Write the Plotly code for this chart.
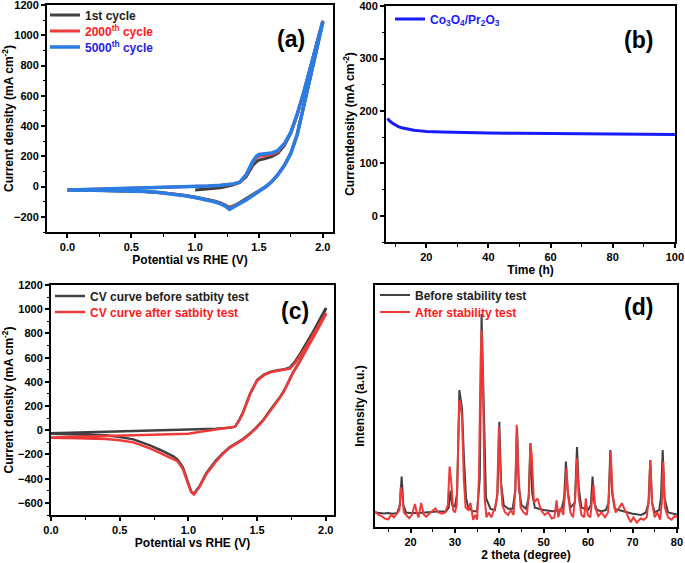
import plotly.graph_objects as go

W, H = 685, 563

# ---------------- Panel (a): CV cycles ----------------
a_fwd_V = [0.0, 0.2, 0.4, 0.6, 0.8, 0.9, 1.0, 1.1, 1.2, 1.3, 1.35, 1.4, 1.45, 1.48, 1.5, 1.55, 1.6, 1.65, 1.7, 1.75, 1.8, 1.85, 1.9, 1.95, 2.0]
a_ret_V = [2.0, 1.95, 1.9, 1.85, 1.8, 1.75, 1.7, 1.65, 1.6, 1.55, 1.5, 1.45, 1.4, 1.35, 1.3, 1.27, 1.24, 1.2, 1.15, 1.1, 1.0, 0.9, 0.8, 0.7, 0.6, 0.4, 0.2, 0.0]

a5000_fwd_I = [-22, -18, -13, -9, -5, -3, 0, 4, 9, 18, 30, 80, 165, 200, 212, 218, 222, 240, 285, 360, 480, 620, 780, 935, 1090]
a5000_ret_I = [1085, 900, 715, 530, 345, 220, 140, 80, 32, -3, -32, -60, -88, -112, -137, -150, -132, -114, -100, -90, -72, -58, -46, -38, -33, -27, -24, -22]

a2000_fwd_I = [-22, -18, -13, -9, -5, -3, 0, 4, 9, 17, 28, 75, 155, 190, 200, 206, 212, 232, 280, 358, 478, 620, 780, 935, 1095]
a2000_ret_I = [1090, 900, 715, 530, 345, 222, 142, 82, 33, -2, -30, -58, -85, -108, -132, -144, -128, -110, -97, -88, -70, -57, -45, -37, -32, -27, -24, -22]

a1_fwd_V = [1.0, 1.1, 1.2, 1.3, 1.35, 1.4, 1.45, 1.48, 1.5, 1.55, 1.6, 1.65, 1.7, 1.75, 1.8, 1.85, 1.9, 1.95, 2.0]
a1_fwd_I = [-22, -17, -8, 12, 28, 65, 138, 165, 175, 186, 198, 222, 272, 355, 478, 620, 780, 935, 1095]
a1_ret_I = [1090, 900, 715, 530, 345, 222, 142, 82, 33, -2, -29, -56, -83, -105, -128, -138, -124, -107, -95, -86, -69, -56, -45, -37, -32, -27, -24, -22]

# ---------------- Panel (b): chronoamperometry ----------------
b_t = [7.5, 8, 9, 10, 11, 12, 14, 16, 18, 20, 25, 30, 40, 50, 60, 70, 80, 90, 100]
b_I = [186, 182, 177, 173, 170, 168, 165, 163, 162, 161, 160, 159, 158, 157.5, 157, 156.5, 156, 155.5, 155]

# ---------------- Panel (c): CV before / after stability ----------------
c_fwd_V = [0.0, 0.5, 1.0, 1.1, 1.2, 1.3, 1.34, 1.37, 1.4, 1.45, 1.5, 1.55, 1.6, 1.65, 1.7, 1.74, 1.78, 1.82, 1.86, 1.9, 1.95, 2.0]
c_ret_V = [2.0, 1.95, 1.9, 1.85, 1.8, 1.76, 1.7, 1.67, 1.6, 1.545, 1.5, 1.45, 1.4, 1.35, 1.3, 1.25, 1.2, 1.13, 1.08, 1.04, 1.02, 1.0, 0.96, 0.92, 0.89, 0.8, 0.72, 0.6, 0.5, 0.4, 0.2, 0.0]

c_before_fwd_I = [-25, -12, 2, 6, 12, 20, 30, 85, 155, 305, 415, 460, 485, 497, 505, 520, 575, 645, 720, 800, 905, 1010]
c_before_ret_I = [1000, 880, 765, 655, 550, 475, 335, 280, 175, 85, 30, -25, -70, -108, -140, -190, -250, -355, -465, -525, -505, -440, -305, -240, -215, -165, -125, -75, -55, -42, -32, -28]

c_after_fwd_I = [-60, -45, -28, -10, 5, 18, 30, 80, 150, 300, 410, 455, 480, 492, 500, 510, 560, 625, 695, 775, 870, 965]
c_after_ret_I = [955, 850, 745, 650, 545, 470, 330, 275, 170, 81, 25, -30, -75, -113, -145, -197, -260, -363, -470, -530, -510, -450, -320, -255, -238, -190, -150, -100, -82, -72, -65, -62]

# ---------------- Panel (d): XRD ----------------
d_before_2t = [12, 13, 14, 15, 16, 17, 17.6, 18.0, 18.4, 19, 20, 22, 24, 26, 28, 28.6, 29.0, 29.4, 30, 30.5, 31.0, 31.6, 32.0, 32.5, 33, 34, 35, 35.6, 36.0, 36.3, 36.6, 37, 38, 39, 39.6, 40.0, 40.4, 41, 42, 43, 43.6, 44.0, 44.4, 45, 46, 46.6, 47.0, 47.4, 48, 50, 52, 54, 54.6, 55.0, 55.4, 56, 57, 57.2, 57.5, 57.9, 58.5, 60, 60.6, 61.0, 61.4, 62, 63, 64, 64.6, 65.0, 65.4, 66, 68, 70, 72, 73, 73.6, 74.0, 74.4, 75, 76, 76.4, 76.8, 77.2, 78, 80]
d_before_I = [6, 5.8, 5.6, 5.8, 5.5, 5.8, 9, 20.8, 9, 6, 5.8, 5.8, 6.2, 6.4, 6.4, 8, 15, 9, 8.5, 14, 56.6, 49, 30, 12, 8, 6.5, 6.5, 20, 88, 66, 35, 12, 7.5, 7, 14, 43.5, 18, 9, 7.5, 7.5, 15, 41, 16, 9, 7.5, 12, 34.7, 14, 8, 7, 6.5, 7, 12, 27, 15, 8, 10, 22, 33, 16, 8, 7, 9, 20.8, 10, 7, 6.5, 7, 10, 31.8, 14, 7.5, 6.5, 5.5, 5, 6, 10, 27.7, 10, 6, 7, 12, 31.8, 12, 6, 5.2, 4.5]

d_after_2t = [12, 12.8, 13.5, 14.2, 15, 15.6, 16.3, 17, 17.5, 17.8, 18.1, 18.5, 19, 19.7, 20.3, 21, 21.4, 21.8, 22.4, 23, 23.5, 24.2, 25, 25.6, 26.3, 27, 27.8, 28.4, 28.8, 29.2, 29.6, 30, 30.4, 30.8, 31.0, 31.3, 31.6, 32.0, 32.4, 33, 33.5, 34.1, 34.6, 35, 35.4, 35.8, 36.0, 36.3, 36.7, 37.1, 37.6, 38.2, 39, 39.5, 39.9, 40.3, 40.7, 41.3, 42, 42.6, 43.2, 43.6, 43.9, 44.3, 44.8, 45.5, 46.2, 46.7, 47.0, 47.3, 47.8, 48.6, 49.4, 50.2, 51, 51.8, 52.4, 52.9, 53.3, 53.8, 54.4, 54.8, 55.1, 55.5, 56, 56.6, 57.1, 57.5, 57.9, 58.5, 59.1, 59.5, 59.9, 60.5, 60.9, 61.2, 61.6, 62.3, 63, 63.8, 64.5, 64.9, 65.1, 65.5, 66.2, 67, 67.6, 68.3, 69, 69.6, 70.2, 71, 71.8, 72.5, 73.2, 73.7, 74.0, 74.4, 75, 75.6, 76.2, 76.6, 76.9, 77.3, 78, 78.8, 79.5, 80]
d_after_I = [6.5, 5, 4.5, 3.5, 3.2, 5, 4, 5.5, 7, 16.4, 14, 6, 5, 3.6, 5, 9.5, 6, 4, 9.9, 5, 4.3, 5.5, 6.5, 7.7, 6, 5.5, 6, 9, 25, 18, 7, 6, 9, 40, 52.5, 50, 45, 20, 8, 7, 10, 3, 5, 3, 20, 70, 81.4, 60, 12, 4, 6, 4, 8, 12, 41.4, 20, 9, 6, 5, 7, 5, 15, 42.2, 22, 8, 6, 5, 14, 34.6, 30, 10, 11.8, 7, 5, 6, 3.5, 4, 11, 4, 8, 5, 14, 24.2, 13, 6, 4, 12, 28.4, 12, 5, 4, 11.8, 5, 4, 12, 17.4, 8, 4.5, 6, 4, 6, 20, 31.1, 14, 6, 8, 9.8, 7, 4, 2, 4, 1.8, 3.5, 3, 4, 12, 27.7, 10, 4, 6, 3, 10, 27, 8, 4, 3, 4.5, 4]

# ---------------- styling ----------------
BLACK = "#404040"
RED = "#f03a3a"
BLUE_A = "#2a7de2"
BLUE_B = "#1a1aff"
FONT = "Liberation Sans"

def loop(fv, fi, rv, ri):
    return list(fv) + list(rv), list(fi) + list(ri)

fig = go.Figure()

def add(x, y, color, width, name, xa, ya, lg):
    fig.add_trace(go.Scatter(x=x, y=y, mode="lines", line=dict(color=color, width=width),
                             name=name, xaxis=xa, yaxis=ya, legend=lg, showlegend=True))

# panel a
x, y = loop(a1_fwd_V, a1_fwd_I, a_ret_V, a1_ret_I)
add(x, y, BLACK, 3, "<span style='color:#222222'>1st cycle</span>", "x", "y", "legend")
x, y = loop(a_fwd_V, a2000_fwd_I, a_ret_V, a2000_ret_I)
add(x, y, RED, 3, "<span style='color:#ff1a1a'>2000<sup>th</sup> cycle</span>", "x", "y", "legend2")
x, y = loop(a_fwd_V, a5000_fwd_I, a_ret_V, a5000_ret_I)
add(x, y, BLUE_A, 3.5, "<span style='color:#2424e6'>5000<sup>th</sup> cycle</span>", "x", "y", "legend3")

# panel b
add(b_t, b_I, BLUE_B, 3, "<span style='color:#1a1aff'>Co<sub>3</sub>O<sub>4</sub>/Pr<sub>2</sub>O<sub>3</sub></span>", "x2", "y2", "legend4")

# panel c
x, y = loop(c_fwd_V, c_before_fwd_I, c_ret_V, c_before_ret_I)
add(x, y, BLACK, 2.5, "<span style='color:#222222'>CV curve before satbity test</span>", "x3", "y3", "legend5")
x, y = loop(c_fwd_V, c_after_fwd_I, c_ret_V, c_after_ret_I)
add(x, y, RED, 2.5, "<span style='color:#ff1a1a'>CV curve after satbity test</span>", "x3", "y3", "legend6")

# panel d
add(d_before_2t, d_before_I, BLACK, 2, "<span style='color:#222222'>Before stability test</span>", "x4", "y4", "legend7")
add(d_after_2t, d_after_I, RED, 2, "<span style='color:#ff1a1a'>After stability test</span>", "x4", "y4", "legend8")

tickfont = dict(family=FONT, size=11, color="black", weight="bold")
titlefont = dict(family=FONT, size=12, color="black", weight="bold")

def ax(domain, rng, dtick, minor_dtick, title, anchor, fmt=None, labels=True, standoff=2):
    d = dict(domain=domain, range=rng, dtick=dtick, tick0=0, automargin=False,
             showline=True, linewidth=2, linecolor="black", mirror=True,
             ticks="outside" if labels else "", ticklen=4, tickwidth=1.5, tickcolor="black",
             showgrid=False, zeroline=False, showticklabels=labels, ticklabeloverflow="allow",
             tickfont=tickfont, anchor=anchor,
             title=dict(text=title, font=titlefont, standoff=standoff))
    if minor_dtick:
        d["minor"] = dict(dtick=minor_dtick, ticks="outside", ticklen=2.5, tickwidth=1, tickcolor="black", showgrid=False)
    if fmt:
        d["tickformat"] = fmt
    return d

def px_x(p):
    return p / W

def px_y(p):
    return 1 - p / H

layout = dict(
    width=W, height=H, margin=dict(l=0, r=0, t=0, b=0, autoexpand=False),
    paper_bgcolor="white", plot_bgcolor="white", showlegend=True,
    font=dict(family=FONT, color="black"),
    xaxis=ax([px_x(47), px_x(333)], [-0.16, 2.08], 0.5, 0.25, "Potential vs RHE (V)", "y", ".1f"),
    yaxis=ax([px_y(232), px_y(5)], [-300, 1200.5], 200, 100, "Current density (mA cm<sup>-2</sup>)", "x"),
    xaxis2=ax([px_x(386), px_x(675)], [7, 100.05], 20, 10, "Time (h)", "y2"),
    yaxis2=ax([px_y(242), px_y(6)], [-50, 400.2], 100, 50, "Currentdensity (mA cm<sup>-2</sup>)", "x2"),
    xaxis3=ax([px_x(51), px_x(334)], [0, 2.06], 0.5, 0.25, "Potential vs RHE (V)", "y3", ".1f"),
    yaxis3=ax([px_y(515), px_y(285)], [-700, 1200.5], 200, 100, "Current density (mA cm<sup>-2</sup>)", "x3"),
    xaxis4=ax([px_x(375), px_x(677)], [12, 80.02], 10, 5, "2 theta (degree)", "y4"),
    yaxis4=ax([px_y(527), px_y(285)], [0, 100], 20, None, "Intensity (a.u.)", "x4", labels=False, standoff=6),
)

legfont = dict(family=FONT, size=12, weight="bold")
def leg(xp, yp):
    return dict(x=px_x(xp), y=px_y(yp), xanchor="left", yanchor="middle", bgcolor="rgba(0,0,0,0)",
                font=legfont, itemwidth=30, borderwidth=0, tracegroupgap=0)

layout["legend"] = leg(45, 15)
layout["legend2"] = leg(45, 31)
layout["legend3"] = leg(45, 47)
layout["legend4"] = leg(390, 19)
layout["legend5"] = leg(50, 296)
layout["legend6"] = leg(50, 312)
layout["legend7"] = leg(375, 295)
layout["legend8"] = leg(375, 312)

labfont = dict(family=FONT, size=23, color="black", weight="bold")
layout["annotations"] = [
    dict(text="(a)", x=px_x(291), y=px_y(24), xref="paper", yref="paper", showarrow=False, font=labfont),
    dict(text="(b)", x=px_x(655), y=px_y(25), xref="paper", yref="paper", showarrow=False, font=labfont),
    dict(text="(c)", x=px_x(295), y=px_y(311), xref="paper", yref="paper", showarrow=False, font=labfont),
    dict(text="(d)", x=px_x(655), y=px_y(307), xref="paper", yref="paper", showarrow=False, font=labfont),
]

fig.update_layout(**layout)
fig.write_html("out.html", config={"displayModeBar": False},
               post_script="document.body.style.margin='0';document.body.style.padding='0';document.body.style.overflow='hidden';")
